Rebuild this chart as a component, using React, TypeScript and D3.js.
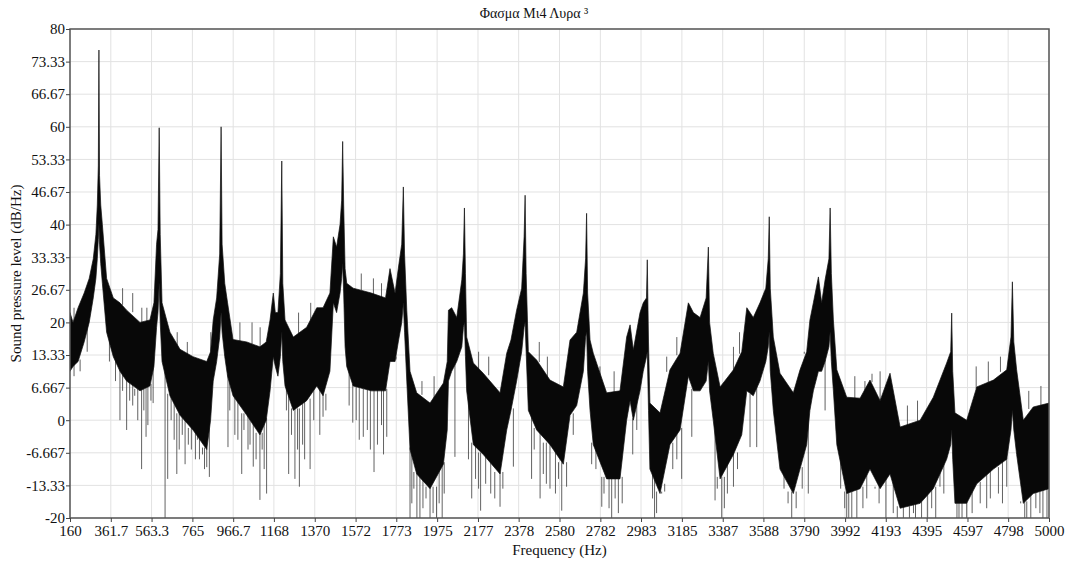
import React, { useEffect, useRef } from 'react';
import * as d3 from 'd3';

// spectrum: knots of the dense trace (upper / lower edge of the black band)
const spectrumHz = [
  160, 175, 200, 230, 255, 275, 288, 295, 300, 303,
  306, 312, 320, 341, 374, 407, 440, 506, 555, 575,
  588, 595, 601, 606, 615, 654, 704, 768, 836, 855,
  868, 885, 900, 907, 912, 925, 939, 966, 1034, 1099,
  1130, 1149, 1165, 1175, 1188, 1200, 1207, 1212, 1223, 1264,
  1330, 1380, 1411, 1445, 1462, 1478, 1495, 1503, 1508, 1513,
  1520, 1528, 1560, 1650, 1720, 1742, 1767, 1783, 1800, 1808,
  1814, 1825, 1841, 1874, 1940, 2006, 2025, 2031, 2047, 2072,
  2097, 2105, 2110, 2115, 2121, 2154, 2203, 2286, 2319, 2340,
  2368, 2393, 2405, 2410, 2415, 2426, 2467, 2533, 2599, 2632,
  2665, 2698, 2709, 2714, 2719, 2731, 2747, 2813, 2879, 2912,
  2929, 2945, 2978, 2994, 3010, 3014, 3020, 3027, 3077, 3126,
  3176, 3217, 3242, 3275, 3305, 3316, 3322, 3340, 3374, 3440,
  3481, 3506, 3538, 3571, 3600, 3612, 3617, 3622, 3637, 3670,
  3736, 3769, 3802, 3818, 3835, 3860, 3876, 3893, 3912, 3918,
  3924, 3934, 3951, 4000, 4066, 4115, 4165, 4214, 4264, 4363,
  4428, 4494, 4514, 4519, 4524, 4535, 4593, 4643, 4725, 4791,
  4812, 4819, 4826, 4840, 4873, 4922, 5000,
];

const spectrumHigh = [
  22, 20, 23, 26, 29, 33, 38, 44, 52, 75.7,
  50, 44, 40, 29, 25, 24, 22.5, 20, 20.5, 24,
  36, 39, 59.8, 38, 24, 18, 14.5, 13, 12, 14,
  20.5, 25, 34, 60, 36, 28, 24, 16.5, 16, 15,
  16, 20.5, 26, 22, 22, 30, 53, 28, 20.5, 17,
  19, 23, 23, 26, 37.5, 35.4, 40, 45, 57, 44,
  31, 28, 27, 26, 25, 31, 26, 31, 36, 47.7,
  34, 22.5, 10, 5.6, 3.5, 7.6, 12, 22.5, 23, 21,
  28.7, 34, 43.4, 30, 17, 11.7, 9.6, 5.6, 13.7, 16.4,
  22.5, 27, 37.5, 46, 30, 14, 12.3, 8.2, 6.8, 16.4,
  18, 26, 33, 42.3, 26, 16.4, 13.7, 5.6, 6, 17,
  19.5, 14.4, 22, 24, 25, 32.8, 16, 3.5, 1.5, 10.3,
  13.7, 24, 22, 21, 25, 35.4, 20, 13.7, 6.8, 10.3,
  14, 23, 21, 24, 27, 33, 41.6, 27, 17, 9.6,
  5.6, 10.3, 14, 20.5, 24, 29.3, 24, 28.7, 33, 43.4,
  30, 20.5, 10.3, 4.7, 4.5, 8.2, 4, 9.6, -1.4, 0,
  4.7, 11.7, 14, 21.9, 10, 1.5, 0, 6.8, 8.2, 10.3,
  17, 28.3, 16, 10.3, 0, 2.7, 3.5,
];

const spectrumLow = [
  10, 11, 12, 16, 20, 25, 29, 33, 37, 40,
  36, 32, 28, 18, 13, 10, 8, 6, 7, 11,
  19, 22, 28, 20, 12, 5, 1, -2, -6, 0,
  8, 12, 17, 22, 18, 13, 9, 5, 1, -3,
  0, 6, 13, 11, 9, 13, 18, 12, 7, 2,
  4, 7, 5, 10, 24, 22, 26, 29, 32, 26,
  15, 11, 7, 6, 6, 12, 12, 16, 20, 24,
  18, 8, -6, -11, -14, -9, -2, 8, 10, 12,
  15, 19, 20, 13, 6, -5, -7, -11, -2, 2,
  8, 14, 19, 20, 14, 2, -2, -5, -9, 1,
  3, 10, 17, 18, 10, 2, -5, -12, -12, 0,
  4, 0, 6, 10, 13, 14, 2, -10, -15, -5,
  -2, 9, 6, 6, 8, 12, 6, 0, -12, -7,
  -3, 6, 5, 8, 12, 15, 18, 10, 2, -10,
  -15, -10, -5, 2, 6, 10, 10, 12, 15, 18,
  12, 6, -5, -15, -14, -10, -14, -11, -18, -17,
  -14, -8, -5, -2, -8, -17, -17, -13, -10, -8,
  -2, 2, -2, -7, -17, -15, -14,
];

// single downward strokes below the band
const dipHz = [
  180, 210, 245, 355, 385, 407, 420, 440, 455, 470, 480, 495, 514, 525,
  536, 545, 560, 571, 630, 643, 660, 675, 688, 700, 715, 729, 745, 760,
  780, 790, 800, 815, 825, 836, 849, 941, 950, 975, 990, 1009, 1020, 1040,
  1050, 1066, 1080, 1099, 1110, 1120, 1132, 1230, 1241, 1255, 1272, 1285,
  1294, 1310, 1320, 1347, 1365, 1395, 1411, 1425, 1540, 1558, 1575, 1590,
  1610, 1630, 1645, 1663, 1680, 1700, 1710, 1726, 1772, 1841, 1850, 1860,
  1875, 1890, 1905, 1920, 1940, 1955, 1972, 1985, 2000, 2010, 2063, 2130,
  2146, 2165, 2180, 2190, 2215, 2240, 2260, 2286, 2300, 2352, 2442, 2455,
  2484, 2500, 2515, 2533, 2560, 2575, 2591, 2615, 2648, 2739, 2760, 2789,
  2800, 2825, 2838, 2855, 2871, 2890, 2942, 2962, 3040, 3050, 3060, 3085,
  3100, 3140, 3160, 3184, 3234, 3349, 3360, 3382, 3395, 3410, 3440, 3460,
  3522, 3555, 3654, 3690, 3710, 3728, 3750, 3780, 3810, 3893, 3970, 3990,
  4000, 4010, 4025, 4050, 4080, 4099, 4140, 4160, 4194, 4230, 4250, 4280,
  4310, 4330, 4340, 4370, 4400, 4420, 4440, 4461, 4480, 4545, 4555, 4570,
  4593, 4620, 4660, 4692, 4710, 4750, 4770, 4791, 4860, 4880, 4890, 4910,
  4935, 4955, 4970, 4990,
];
const dipDb = [
  9, 10, 14, 12, 8, 0, 6, -2, 4, 3, 5, 0, -10, 2,
  -3.4, -1, 4, 3.5, -20, -12, 0, -4, -11, -6, -3, -9, -5, -6,
  -8, -4, -8, -7, -10, -9.6, -11.6, -5.5, 2, -3, -4, -11, -2, -6,
  -5, -9.5, -8, -16.3, -6, -10, -15, 2, -11, -3, -12, -6,
  -13.6, -5, -8, -10, 0, -3, 0.7, 2, 3, -0.5, 0, -4,
  -3.4, -2, -6, -10.6, -5, -1, -7, -3.4, 13, -20, -17, -14,
  -20, -20, -18, -16, -20, -19, -20, -17, -20, -15, -7.5, -8,
  -16, -12, -14, -18.5, -13, -15, -16, -17.7, -14, -9.5, -12, -6,
  -16, -11, -13, -14, -15, -12, -18.5, -13.6, -3, -9, -10, -17.7,
  -15, -18, -20, -16, -19, -17, -7, -2, -16, -20, -19, -15,
  -13, -10, -8, -12, -3.4, -16.4, -14, -20, -18, -15, -13.6, -10,
  -5.5, -5.5, -9.6, -14, -17, -20, -18, -14, -15, 2, -14, -18,
  -20, -20, -20, -20, -18, -16, -14, -17, -20, -19, -20, -20,
  -20, -19, -20, -20, -20, -18, -20, -13.6, -15, -20, -20, -20,
  -20, -19, -17, -18, -16, -15, -17, -13.6, -17, -20, -20, -20,
  -18, -19, -20, -20,
];

// single upward strokes above the band
const riseHz = [
  180, 420, 470, 515, 540, 690, 740, 856, 1000, 1060, 1100, 1290, 1350,
  1600, 1660, 1700, 1900, 1960, 2180, 2230, 2480, 2520, 2780, 2850, 3110,
  3160, 3440, 3470, 3790, 4040, 4090, 4125, 4165, 4300, 4350, 4640, 4700,
  4760, 4900, 4960,
];
const riseDb = [
  23, 27, 26, 23, 23, 18, 16, 18, 20, 20, 19, 22, 24,
  30, 29, 28, 8, 9, 14, 13, 16, 13, 11, 10, 13,
  17, 15, 18, 14, 9, 8, 9.5, 10, 3, 4, 11, 12,
  13, 6, 7,
];

const xTickLabels = [
  '160', '361.7', '563.3', '765', '966.7', '1168', '1370', '1572', '1773',
  '1975', '2177', '2378', '2580', '2782', '2983', '3185', '3387', '3588',
  '3790', '3992', '4193', '4395', '4597', '4798', '5000',
];
const yTickLabels = [
  '-20', '-13.33', '-6.667', '0', '6.667', '13.33', '20', '26.67',
  '33.33', '40', '46.67', '53.33', '60', '66.67', '73.33', '80',
];

const W = 1070;
const H = 567;
const margin = { top: 29, right: 21, bottom: 49, left: 70 };
const FONT = "'Liberation Serif', 'DejaVu Serif', serif";

const App = () => {
  const svgRef = useRef<SVGSVGElement>(null);

  useEffect(() => {
    const svg = d3.select(svgRef.current);
    svg.selectAll('*').remove();

    const innerW = W - margin.left - margin.right;
    const innerH = H - margin.top - margin.bottom;

    const x = d3.scaleLinear().domain([160, 5000]).range([0, innerW]);
    const y = d3.scaleLinear().domain([-20, 80]).range([innerH, 0]);

    const xVals = xTickLabels.map(Number);
    const yVals = yTickLabels.map(Number);

    const g = svg.append('g').attr('transform', `translate(${margin.left},${margin.top})`);

    // grid
    g.append('g')
      .selectAll('line')
      .data(xVals)
      .join('line')
      .attr('x1', d => x(d))
      .attr('x2', d => x(d))
      .attr('y1', 0)
      .attr('y2', innerH)
      .attr('stroke', '#e2e2e2')
      .attr('stroke-width', 1);
    g.append('g')
      .selectAll('line')
      .data(yVals)
      .join('line')
      .attr('x1', 0)
      .attr('x2', innerW)
      .attr('y1', d => y(d))
      .attr('y2', d => y(d))
      .attr('stroke', '#e2e2e2')
      .attr('stroke-width', 1);

    svg.append('clipPath')
      .attr('id', 'plot-clip')
      .append('rect')
      .attr('width', innerW)
      .attr('height', innerH);

    const plot = g.append('g').attr('clip-path', 'url(#plot-clip)');

    const knots = spectrumHz.map((f, i) => ({ f, hi: spectrumHigh[i], lo: spectrumLow[i] }));
    const bis = d3.bisector((d: any) => d.f).center;

    // downward strokes
    plot.append('g')
      .selectAll('line')
      .data(dipHz.map((f, i) => ({ f, v: dipDb[i] })))
      .join('line')
      .attr('x1', d => x(d.f))
      .attr('x2', d => x(d.f))
      .attr('y1', d => y(knots[bis(knots, d.f)].lo) - 2)
      .attr('y2', d => y(d.v))
      .attr('stroke', '#3a3a3a')
      .attr('stroke-width', 0.8);

    // upward strokes
    plot.append('g')
      .selectAll('line')
      .data(riseHz.map((f, i) => ({ f, v: riseDb[i] })))
      .join('line')
      .attr('x1', d => x(d.f))
      .attr('x2', d => x(d.f))
      .attr('y1', d => y(knots[bis(knots, d.f)].hi) + 2)
      .attr('y2', d => y(d.v))
      .attr('stroke', '#3a3a3a')
      .attr('stroke-width', 0.8);

    const band = d3.area<any>()
      .x(d => x(d.f))
      .y0(d => y(d.lo))
      .y1(d => y(d.hi));

    plot.append('path')
      .datum(knots)
      .attr('d', band)
      .attr('fill', '#080808')
      .attr('stroke', '#111')
      .attr('stroke-width', 0.7)
      .attr('stroke-linejoin', 'round');

    // frame
    g.append('rect')
      .attr('width', innerW)
      .attr('height', innerH)
      .attr('fill', 'none')
      .attr('stroke', '#555')
      .attr('stroke-width', 1.5);

    const xAxis = d3.axisBottom(x)
      .tickValues(xVals)
      .tickFormat((_, i) => xTickLabels[i])
      .tickSize(4)
      .tickPadding(3);
    const gx = g.append('g').attr('transform', `translate(0,${innerH})`).call(xAxis);

    const yAxis = d3.axisLeft(y)
      .tickValues(yVals)
      .tickFormat((_, i) => yTickLabels[i])
      .tickSize(4)
      .tickPadding(1);
    const gy = g.append('g').call(yAxis);

    [gx, gy].forEach(a => {
      a.select('.domain').remove();
      a.selectAll('.tick line').attr('stroke', '#444');
      a.selectAll('.tick text')
        .attr('fill', '#111')
        .style('font-family', FONT)
        .style('font-size', '15px');
    });

    svg.append('text')
      .attr('x', 534)
      .attr('y', 18)
      .attr('text-anchor', 'middle')
      .style('font-family', FONT)
      .style('font-size', '14px')
      .attr('fill', '#111')
      .text('Φασμα Μι4 Λυρα ³');

    svg.append('text')
      .attr('x', margin.left + innerW / 2)
      .attr('y', 555)
      .attr('text-anchor', 'middle')
      .style('font-family', FONT)
      .style('font-size', '15px')
      .attr('fill', '#111')
      .text('Frequency (Hz)');

    svg.append('text')
      .attr('transform', `translate(21,${margin.top + innerH / 2}) rotate(-90)`)
      .attr('text-anchor', 'middle')
      .style('font-family', FONT)
      .style('font-size', '15px')
      .attr('fill', '#111')
      .text('Sound pressure level (dB/Hz)');
  }, []);

  return (
    <svg
      ref={svgRef}
      width={W}
      height={H}
      style={{ position: 'absolute', left: 0, top: 0, background: '#fff' }}
    />
  );
};

export default App;
